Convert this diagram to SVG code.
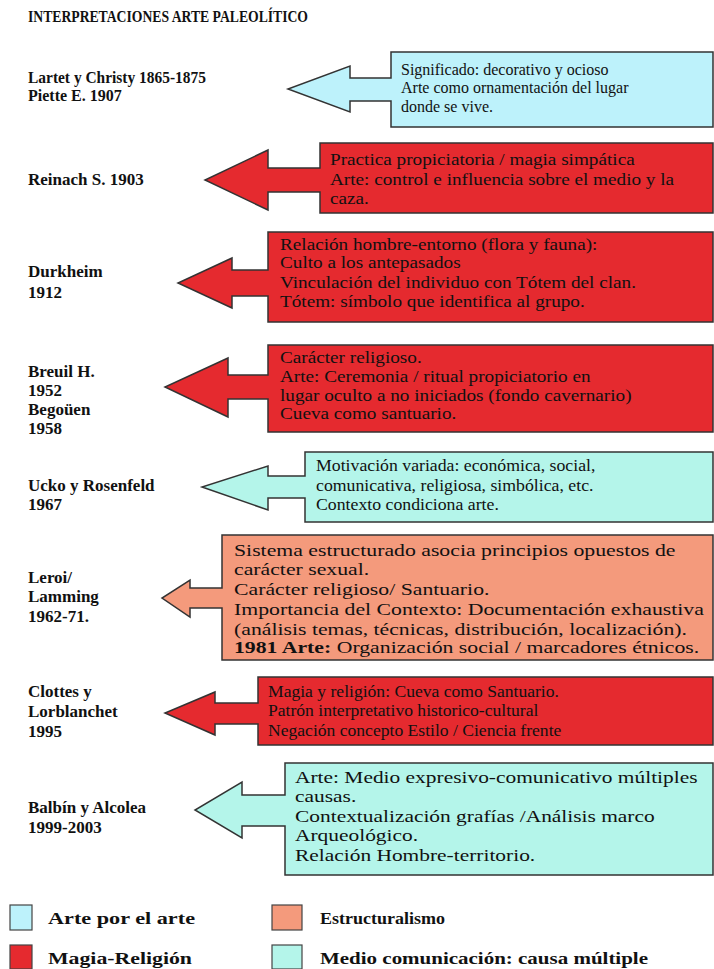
<svg xmlns="http://www.w3.org/2000/svg" width="714" height="969" viewBox="0 0 714 969">
<style>
.bg{fill:#ffffff}
.title{font-family:"Liberation Serif",serif;font-weight:bold;font-size:16px;fill:#111}
.lbl{font-family:"Liberation Serif",serif;font-weight:bold;font-size:17px;fill:#111}
.sm{font-size:16px}
.txt{font-family:"Liberation Serif",serif;font-size:16px;fill:#111}
.big{font-size:17px}
.shape{stroke:#333;stroke-width:1.5;stroke-linejoin:miter}
.sky{fill:#bdf2fb}
.red{fill:#e52a2f}
.sal{fill:#f49a7c}
.mint{fill:#b4f5ea}
.key{stroke:#444;stroke-width:1.2}
</style>
<rect class="bg" x="0" y="0" width="714" height="969"/>
<text class="title" x="28" y="22" textLength="280" lengthAdjust="spacingAndGlyphs">INTERPRETACIONES ARTE PALEOLÍTICO</text>

<g id="connectors"></g>

<g id="n1">
<path class="shape sky" d="M391,52 H713 V127 H391 V101 H350 V112 L288,89 L350,66 V78 H391 Z"/>
<text class="lbl sm" x="28" y="83" textLength="178" lengthAdjust="spacingAndGlyphs">Lartet y Christy 1865-1875</text>
<text class="lbl sm" x="28" y="101">Piette E. 1907</text>
<text class="txt" x="401" y="75">Significado: decorativo y ocioso</text>
<text class="txt" x="401" y="93">Arte como ornamentación del lugar</text>
<text class="txt" x="401" y="112">donde se vive.</text>
</g>

<g id="n2">
<path class="shape red" d="M320,143 H713 V213 H320 V192 H268 V210 L205,180 L268,150 V168 H320 Z"/>
<text class="lbl" x="28" y="185">Reinach S. 1903</text>
<g transform="translate(330,0) scale(1.2,1)">
<text class="txt" x="0" y="165">Practica propiciatoria / magia simpática</text>
<text class="txt" x="0" y="185">Arte: control e influencia sobre el medio y la</text>
<text class="txt" x="0" y="204">caza.</text>
</g>
</g>

<g id="n3">
<path class="shape red" d="M268,232 H713 V322 H268 V296 H232 V308 L178,283 L232,258 V270 H268 Z"/>
<text class="lbl" x="28" y="277">Durkheim</text>
<text class="lbl" x="28" y="298">1912</text>
<g transform="translate(280,0) scale(1.2,1)">
<text class="txt" x="0" y="250">Relación hombre-entorno (flora y fauna):</text>
<text class="txt" x="0" y="268">Culto a los antepasados</text>
<text class="txt" x="0" y="288">Vinculación del individuo con Tótem del clan.</text>
<text class="txt" x="0" y="307">Tótem: símbolo que identifica al grupo.</text>
</g>
</g>

<g id="n4">
<path class="shape red" d="M268,345 H713 V432 H268 V399 H228 V417 L165,387 L228,358 V375 H268 Z"/>
<text class="lbl" x="28" y="377">Breuil H.</text>
<text class="lbl" x="28" y="396">1952</text>
<text class="lbl" x="28" y="415">Begoüen</text>
<text class="lbl" x="28" y="434">1958</text>
<g transform="translate(280,0) scale(1.2,1)">
<text class="txt" x="0" y="363">Carácter religioso.</text>
<text class="txt" x="0" y="382">Arte: Ceremonia / ritual propiciatorio en</text>
<text class="txt" x="0" y="401">lugar oculto a no iniciados (fondo cavernario)</text>
<text class="txt" x="0" y="419">Cueva como santuario.</text>
</g>
</g>

<g id="n5">
<path class="shape mint" d="M305,452 H713 V522 H305 V498 H268 V510 L202,487 L268,466 V476 H305 Z"/>
<text class="lbl" x="28" y="491">Ucko y Rosenfeld</text>
<text class="lbl" x="28" y="510">1967</text>
<g transform="translate(316,0) scale(1.11,1)">
<text class="txt" x="0" y="471">Motivación variada: económica, social,</text>
<text class="txt" x="0" y="491">comunicativa, religiosa, simbólica, etc.</text>
<text class="txt" x="0" y="510">Contexto condiciona arte.</text>
</g>
</g>

<g id="n6">
<path class="shape sal" d="M222,535 H713 V660 H222 V608 H190 V617 L162,598 L190,580 V588 H222 Z"/>
<text class="lbl" x="28" y="583">Leroi/</text>
<text class="lbl" x="28" y="602">Lamming</text>
<text class="lbl" x="28" y="622">1962-71.</text>
<g transform="translate(234,0) scale(1.28,1)">
<text class="txt big" x="0" y="556">Sistema estructurado asocia principios opuestos de</text>
<text class="txt big" x="0" y="575">carácter sexual.</text>
<text class="txt big" x="0" y="595">Carácter religioso/ Santuario.</text>
<text class="txt big" x="0" y="615">Importancia del Contexto: Documentación exhaustiva</text>
<text class="txt big" x="0" y="635">(análisis temas, técnicas, distribución, localización).</text>
<text class="txt big" x="0" y="653"><tspan font-weight="bold">1981 Arte:</tspan> Organización social / marcadores étnicos.</text>
</g>
</g>

<g id="n7">
<path class="shape red" d="M258,677 H713 V745 H258 V724 H215 V735 L165,713 L215,692 V703 H258 Z"/>
<text class="lbl" x="28" y="697">Clottes y</text>
<text class="lbl" x="28" y="717">Lorblanchet</text>
<text class="lbl" x="28" y="737">1995</text>
<g transform="translate(268,0) scale(1.1,1)">
<text class="txt" x="0" y="697">Magia y religión: Cueva como Santuario.</text>
<text class="txt" x="0" y="716">Patrón interpretativo historico-cultural</text>
<text class="txt" x="0" y="736">Negación concepto Estilo / Ciencia frente</text>
</g>
</g>

<g id="n8">
<path class="shape mint" d="M285,763 H713 V875 H285 V826 H242 V838 L195,810 L242,782 V795 H285 Z"/>
<text class="lbl" x="28" y="813">Balbín y Alcolea</text>
<text class="lbl" x="28" y="833">1999-2003</text>
<g transform="translate(295,0) scale(1.26,1)">
<text class="txt big" x="0" y="783">Arte: Medio expresivo-comunicativo múltiples</text>
<text class="txt big" x="0" y="802">causas.</text>
<text class="txt big" x="0" y="822">Contextualización grafías /Análisis marco</text>
<text class="txt big" x="0" y="841">Arqueológico.</text>
<text class="txt big" x="0" y="861">Relación Hombre-territorio.</text>
</g>
</g>

<g id="legend">
<rect class="key sky" x="10" y="905" width="22" height="25"/>
<text class="lbl" x="48" y="924" textLength="147" lengthAdjust="spacingAndGlyphs">Arte por el arte</text>
<rect class="key red" x="10" y="945" width="22" height="24"/>
<text class="lbl" x="48" y="964" textLength="144" lengthAdjust="spacingAndGlyphs">Magia-Religión</text>
<rect class="key sal" x="272" y="905" width="30" height="25"/>
<text class="lbl" x="320" y="924" textLength="125" lengthAdjust="spacingAndGlyphs">Estructuralismo</text>
<rect class="key mint" x="272" y="945" width="30" height="24"/>
<text class="lbl" x="320" y="964" textLength="328" lengthAdjust="spacingAndGlyphs">Medio comunicación: causa múltiple</text>
</g>
</svg>
